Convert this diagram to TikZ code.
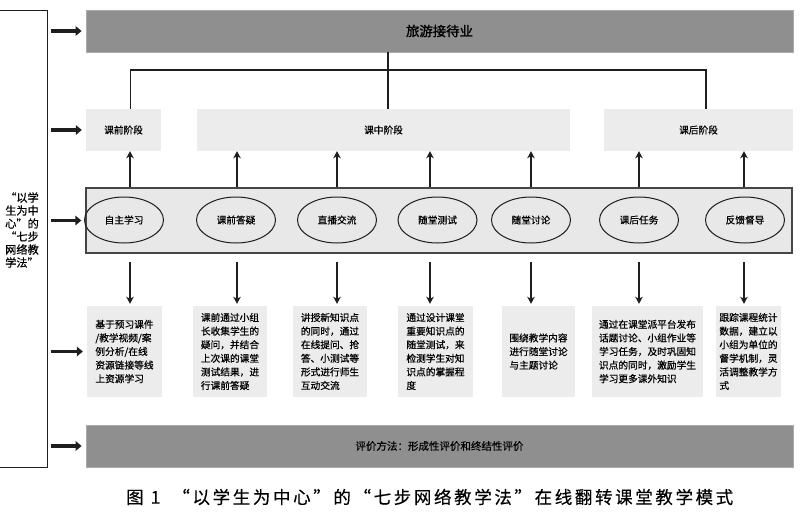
\documentclass[tikz,border=0pt]{standalone}
\usepackage{fontspec}
\setmainfont{Noto Sans CJK SC}[FakeBold=0.5]
\newfontfamily\cjkb{Noto Sans CJK SC}[FakeBold=1.5]
\newfontfamily\capfont{Noto Sans CJK SC}[FakeBold=0.3]
\usetikzlibrary{arrows.meta,shapes.geometric}
\definecolor{barfill}{RGB}{143,143,143}
\definecolor{barline}{RGB}{170,170,170}
\definecolor{lightbox}{RGB}{236,236,236}
\definecolor{bandfill}{RGB}{232,232,232}
\definecolor{bandline}{RGB}{70,70,70}
\definecolor{ink}{RGB}{30,30,30}
\tikzset{
  darkbar/.style={draw=barline, line width=0.8pt, fill=barfill, inner sep=0pt},
  stagebox/.style={fill=lightbox, inner sep=0pt, minimum height=42pt,
    font=\fontsize{9.7pt}{12pt}\selectfont},
  bandbox/.style={draw=bandline, line width=1.3pt, fill=bandfill, inner sep=0pt},
  stepell/.style={ellipse, draw=ink, line width=1pt, inner sep=0pt,
    minimum width=79pt, minimum height=46pt, font=\fontsize{9.7pt}{12pt}\selectfont},
  textbox/.style={fill=lightbox, inner sep=0pt, minimum height=91pt, align=left,
    font=\fontsize{9.7pt}{13.6pt}\selectfont},
  leftbox/.style={draw=ink, line width=0.9pt, fill=white, inner sep=0pt},
  bigarrow/.style={draw=ink, line width=3.6pt, -{Triangle[length=6pt,width=9.5pt]},
    shorten <=4pt, shorten >=4pt},
  uparrow/.style={draw=ink, line width=1.5pt, -{Stealth[length=7pt,width=7.5pt,inset=2pt]}},
  treeline/.style={draw=ink, line width=1.5pt},
}
\begin{document}
\begin{tikzpicture}[x=1pt,y=-1pt]
\useasboundingbox (0,0) rectangle (800,519);
\fill[white] (0,0) rectangle (800,519);

% left label box
\node[leftbox, minimum width=50pt, minimum height=457pt] (lbox) at (22,238.5) {};
\node[anchor=west, align=left, inner sep=0pt,
  font=\fontsize{11.2pt}{13pt}\selectfont] (lbltxt) at (5,230)
  {“以学\\生为中\\心”的\\“七步\\网络教\\学法”};

% top bar
\node[darkbar, minimum width=707pt, minimum height=42pt,
  font=\fontsize{13.4pt}{15pt}\selectfont] (top) at (439.5,31) {\cjkb 旅游接待业};

% stage boxes
\node[stagebox, minimum width=75pt] (pre) at (123.5,130) {课前阶段};
\node[stagebox, minimum width=373pt] (mid) at (383.5,130) {课中阶段};
\node[stagebox, minimum width=189pt] (post) at (698.5,130) {课后阶段};

% band with ellipses
\node[bandbox, minimum width=706pt, minimum height=65pt] (band) at (439,220.5) {};
\node[stepell] (e1) at (124,220) {自主学习};
\node[stepell] (e2) at (236,220) {课前答疑};
\node[stepell] (e3) at (337,220) {直播交流};
\node[stepell] (e4) at (437.5,220) {随堂测试};
\node[stepell] (e5) at (531,220) {随堂讨论};
\node[stepell] (e6) at (639,220) {课后任务};
\node[stepell] (e7) at (745,220) {反馈督导};

% text boxes
\node[textbox, minimum width=75pt] (b1) at (124.5,351.5)
  {基于预习课件\\/教学视频/案\\例分析/在线\\资源链接等线\\上资源学习};
\node[textbox, minimum width=74pt] (b2) at (230,351.5)
  {课前通过小组\\长收集学生的\\疑问，并结合\\上次课的课堂\\测试结果，进\\行课前答疑};
\node[textbox, minimum width=74pt] (b3) at (330,351.5)
  {讲授新知识点\\的同时，通过\\在线提问、抢\\答、小测试等\\形式进行师生\\互动交流};
\node[textbox, minimum width=75pt] (b4) at (435.5,351.5)
  {通过设计课堂\\重要知识点的\\随堂测试，来\\检测学生对知\\识点的掌握程\\度};
\node[textbox, minimum width=73pt] (b5) at (538.5,351.5)
  {围绕教学内容\\进行随堂讨论\\与主题讨论};
\node[textbox, minimum width=111pt] (b6) at (647.5,351.5)
  {通过在课堂派平台发布\\话题讨论、小组作业等\\学习任务，及时巩固知\\识点的同时，激励学生\\学习更多课外知识};
\node[textbox, minimum width=65pt] (b7) at (748.5,351.5)
  {跟踪课程统计\\数据，建立以\\小组为单位的\\督学机制，灵\\活调整教学方\\式};

% bottom bar
\node[darkbar, minimum width=707pt, minimum height=42pt,
  font=\fontsize{10.5pt}{12pt}\selectfont] (bot) at (439.5,446) {评价方法：形成性评价和终结性评价};

% caption
\node[anchor=west, inner sep=0pt, font=\capfont\fontsize{17.5pt}{20pt}\selectfont] (cap) at (126,497)
  {图\hspace{7pt}1\hspace{12pt}{\addfontfeature{LetterSpace=15}“以学生为中心”的“七步网络教学法”在线翻转课堂教学模式}};

% left thick arrows
\draw[bigarrow] (lbox.east |- top.west) -- (top.west);
\draw[bigarrow] (lbox.east |- pre.west) -- (pre.west);
\draw[bigarrow] (lbox.east |- band.west) -- (band.west);
\draw[bigarrow] (lbox.east |- b1.west) -- (b1.west);
\draw[bigarrow] (lbox.east |- bot.west) -- (bot.west);

% tree connector
\coordinate (tj) at (388,70);
\coordinate (tl) at (130.5,70);
\coordinate (tr) at (706,70);
\draw[treeline] (top.south -| tj) -- (mid.north -| tj);
\draw[treeline] (pre.north -| tl) -- (tl) -- (tr) -- (post.north -| tr);

% arrow columns
\coordinate (a1) at (130,0);
\coordinate (a2) at (237,0);
\coordinate (a3) at (337,0);
\coordinate (a4) at (430,0);
\coordinate (a5) at (531,0);
\coordinate (a6) at (639,0);
\coordinate (a7) at (744,0);
\draw[uparrow] (band.north -| a1) -- (pre.south -| a1);
\draw[uparrow] (band.north -| a2) -- (mid.south -| a2);
\draw[uparrow] (band.north -| a3) -- (mid.south -| a3);
\draw[uparrow] (band.north -| a4) -- (mid.south -| a4);
\draw[uparrow] (band.north -| a5) -- (mid.south -| a5);
\draw[uparrow] (band.north -| a6) -- (post.south -| a6);
\draw[uparrow] (band.north -| a7) -- (post.south -| a7);

\draw[uparrow, shorten <=8pt, shorten >=2pt] (band.south -| a1) -- (b1.north -| a1);
\draw[uparrow, shorten <=8pt, shorten >=2pt] (band.south -| a2) -- (b2.north -| a2);
\draw[uparrow, shorten <=8pt, shorten >=2pt] (band.south -| a3) -- (b3.north -| a3);
\draw[uparrow, shorten <=8pt, shorten >=2pt] (band.south -| a4) -- (b4.north -| a4);
\draw[uparrow, shorten <=8pt, shorten >=2pt] (band.south -| a5) -- (b5.north -| a5);
\draw[uparrow, shorten <=8pt, shorten >=2pt] (band.south -| a6) -- (b6.north -| a6);
\draw[uparrow, shorten <=8pt, shorten >=2pt] (band.south -| a7) -- (b7.north -| a7);
\end{tikzpicture}
\end{document}
